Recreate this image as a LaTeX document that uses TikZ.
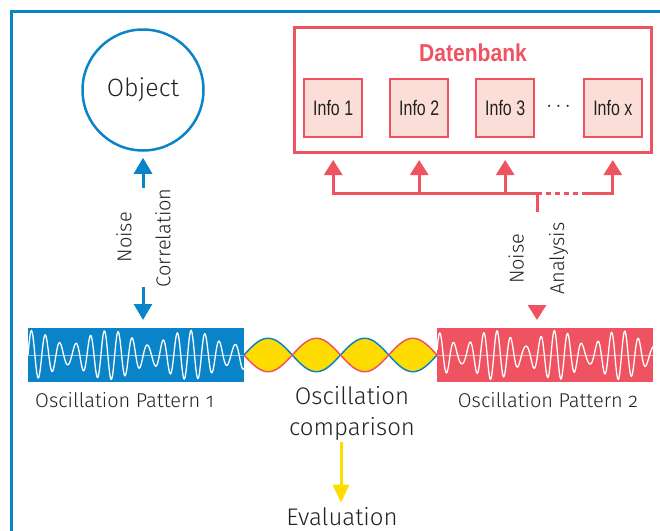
\documentclass[tikz,border=0pt]{standalone}
\usepackage{fontspec}
\setmainfont{Fira Sans}[UprightFont={* Light}, Numbers=OldStyle]
\newfontfamily\condfont{Liberation Sans}[FakeStretch=0.76]
\newfontfamily\dbfont{Liberation Sans}[FakeStretch=0.86]
\usetikzlibrary{arrows.meta}
\definecolor{myblue}{HTML}{0A84C8}
\definecolor{myred}{HTML}{EF5260}
\definecolor{mypink}{HTML}{FCDED8}
\definecolor{myyellow}{HTML}{FFDC00}
\definecolor{txt}{HTML}{222222}
\tikzset{
  infobox/.style={draw=myred, fill=mypink, line width=2pt, minimum width=58pt, minimum height=58pt, inner sep=0pt, font=\condfont\fontsize{21}{21}\selectfont, text=txt},
  bluearr/.style={draw=myblue, line width=3pt, -{Triangle[width=18pt,length=16pt]}},
  redarr/.style={draw=myred, fill=myred, line width=3pt, -{Triangle[width=18pt,length=15pt]}},
  yelarr/.style={draw=myyellow, line width=3pt, -{Triangle[width=16pt,length=18pt]}},
  redline/.style={draw=myred, line width=3pt},
  lbl/.style={font=\fontsize{20}{24}\selectfont, text=txt, inner sep=0pt},
  biglbl/.style={font=\fontsize{24}{31}\selectfont, text=txt, inner sep=0pt},
  pattern/.style={minimum width=216pt, minimum height=54pt, inner sep=0pt, outer sep=0pt},
  wave/.style={white, line width=1.3pt},
  midline/.style={white, opacity=0.55, line width=0.6pt},
}
\begin{document}
\begin{tikzpicture}[x=1pt,y=-1pt]
\useasboundingbox (0,0) rectangle (660,530);
% outer frame
\draw[myblue, line width=2.5pt] (11.7,535) -- (11.7,11.7) -- (665,11.7);

% object
\node[circle, draw=myblue, line width=2.5pt, minimum size=121pt, inner sep=0pt,
      font=\fontsize{25}{30}\selectfont, text=txt] (obj) at (143,90) {Object};

% database
\node[draw=myred, line width=3pt, minimum width=357pt, minimum height=125.5pt, inner sep=0pt] (db) at (472.8,89.75) {};
\node[font=\dbfont\bfseries\fontsize{24.5}{24.5}\selectfont, text=myred, anchor=base, inner sep=0pt] (dbt) at (473,61.5) {Datenbank};
\node[infobox] (i1) at (333.2,108.2) {Info 1};
\node[infobox] (i2) at (419.2,108.2) {Info 2};
\node[infobox] (i3) at (505.2,108.2) {Info 3};
\node[infobox] (ix) at (612.8,108.2) {Info x};
\node[font=\fontsize{21}{21}\selectfont, text=txt, inner sep=0pt] (dots) at (558.5,106.7) {$\cdots$};

% bus
\coordinate (b1) at (333.2,193);
\coordinate (b2) at (419.2,193);
\coordinate (b3) at (505.2,193);
\coordinate (bj) at (537,193);
\coordinate (bd) at (585,193);
\coordinate (bx) at (612.8,193);
\coordinate (bs) at (537,210.5);
\draw[redline, line cap=rect] (b1) -- (bj);
\draw[redline, line cap=rect] (bs) -- (bj);
\draw[redline, dash pattern=on 4.5pt off 4.5pt] (bj) -- (bd);
\draw[redline, line cap=rect] (bd) -- (bx);
\draw[redarr, shorten >=6pt] (b1) -- (b1 |- db.south);
\draw[redarr, shorten >=6pt] (b2) -- (b2 |- db.south);
\draw[redarr, shorten >=6pt] (b3) -- (b3 |- db.south);
\draw[redarr, shorten >=6pt] (bx) -- (bx |- db.south);

% patterns
\node[pattern, fill=myblue] (p1) at (136,355) {};
\node[pattern, fill=myred] (p2) at (545,355) {};
\begin{scope}
  \clip (p1.south west) rectangle (p1.north east);
  \draw[midline] (p1.west) -- (p1.east);
  \draw[wave] plot[domain=0:216, samples=500] ({\x+28}, {355-24.5*(0.7*sin(\x*24.828)+0.3*sin(\x*29.268))});
\end{scope}
\begin{scope}
  \clip (p2.south west) rectangle (p2.north east);
  \draw[midline] (p2.west) -- (p2.east);
  \draw[wave] plot[domain=0:216, samples=500] ({\x+437}, {355-24.5*(0.68*sin(\x*25.352)+0.32*sin(\x*31.034+40))});
\end{scope}

% lenses
\fill[myyellow] plot[domain=244:437, samples=200] (\x, {355-16.7*sin(3.7306*(\x-244))})
   -- plot[domain=437:244, samples=200] (\x, {355+16.7*sin(3.7306*(\x-244))}) -- cycle;
\draw[myblue, line width=1.5pt] plot[domain=244:437, samples=200] (\x, {355-16.7*sin(3.7306*(\x-244))});
\draw[myred, line width=1.5pt] plot[domain=244:437, samples=200] (\x, {355+16.7*sin(3.7306*(\x-244))});

% left arrows
\coordinate (nc1) at (143,187.5);
\coordinate (nc2) at (143,287);
\draw[bluearr, shorten >=6pt] (nc1) -- (obj.south);
\draw[bluearr, shorten >=8pt] (nc2) -- (nc2 |- p1.north);
\node[lbl, rotate=90] (n1) at (124,237.2) {Noise};
\node[lbl, rotate=90] (c1) at (163,237.8) {Correlation};

% right analysis
\coordinate (na) at (537,305);
\draw[redarr, shorten >=8pt] (na) -- (na |- p2.north);
\node[lbl, rotate=90] (n2) at (516.3,258.8) {Noise};
\node[lbl, rotate=90] (a2) at (558.5,258.8) {Analysis};

% labels
\node[lbl, anchor=base west] (l1) at (35,407) {Oscillation Pattern 1};
\node[lbl, anchor=base] (l2) at (548,407) {Oscillation Pattern 2};
\node[biglbl, anchor=base, align=center] (cmp) at (352,435) {Oscillation\\comparison};
\node[biglbl, anchor=base] (ev) at (342,525) {Evaluation};
\coordinate (ys) at (341,442);
\draw[yelarr, shorten >=4pt] (ys) -- (ys |- ev.north);
\end{tikzpicture}
\end{document}
